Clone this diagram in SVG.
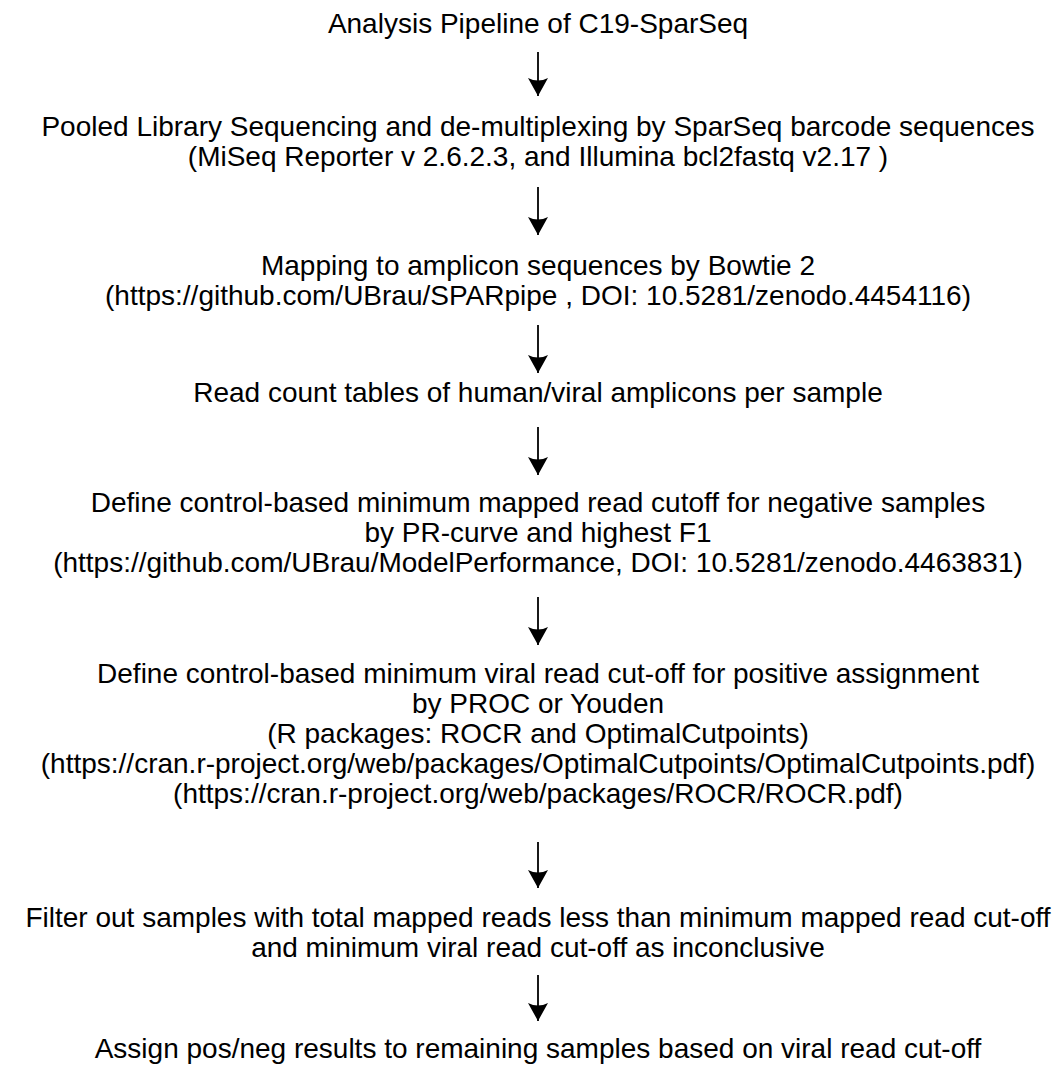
<svg xmlns="http://www.w3.org/2000/svg" width="1063" height="1066" viewBox="0 0 1063 1066">
<style>
text{font-family:"Liberation Sans",Arial,sans-serif;font-size:28px;fill:#000;text-anchor:middle}
.arr{stroke:#000;stroke-width:1.8;fill:none}
</style>
<defs>
<marker id="ah" markerUnits="userSpaceOnUse" markerWidth="24" markerHeight="24" viewBox="-20 -12 24 24" refX="0" refY="0" orient="auto">
<path d="M0,0 L-18,-10 Q-13,0 -18,10 Z" fill="#000"/>
</marker>
</defs>
<rect width="1063" height="1066" fill="#fff"/>
<g id="n0"><text x="538" y="33">Analysis Pipeline of C19-SparSeq</text></g>
<g id="n1"><text x="538" y="136">Pooled Library Sequencing and de-multiplexing by SparSeq barcode sequences</text><text x="538" y="166">(MiSeq Reporter v 2.6.2.3, and Illumina bcl2fastq v2.17 )</text></g>
<g id="n2"><text x="538" y="275">Mapping to amplicon sequences by Bowtie 2</text><text x="538" y="305">(https://github.com/UBrau/SPARpipe , DOI: 10.5281/zenodo.4454116)</text></g>
<g id="n3"><text x="538" y="402">Read count tables of human/viral amplicons per sample</text></g>
<g id="n4"><text x="538" y="512">Define control-based minimum mapped read cutoff for negative samples</text><text x="538" y="542">by PR-curve and highest F1</text><text x="538" y="572">(https://github.com/UBrau/ModelPerformance, DOI: 10.5281/zenodo.4463831)</text></g>
<g id="n5"><text x="538" y="683">Define control-based minimum viral read cut-off for positive assignment</text><text x="538" y="713">by PROC or Youden</text><text x="538" y="743">(R packages: ROCR and OptimalCutpoints)</text><text x="538" y="773">(https://cran.r-project.org/web/packages/OptimalCutpoints/OptimalCutpoints.pdf)</text><text x="538" y="803">(https://cran.r-project.org/web/packages/ROCR/ROCR.pdf)</text></g>
<g id="n6"><text x="538" y="927">Filter out samples with total mapped reads less than minimum mapped read cut-off</text><text x="538" y="957">and minimum viral read cut-off as inconclusive</text></g>
<g id="n7"><text x="538" y="1058">Assign pos/neg results to remaining samples based on viral read cut-off</text></g>
<g id="connectors">
<path class="arr" d="M538,52V96" marker-end="url(#ah)"/>
<path class="arr" d="M538,187V235" marker-end="url(#ah)"/>
<path class="arr" d="M538,325V373" marker-end="url(#ah)"/>
<path class="arr" d="M538,427V475" marker-end="url(#ah)"/>
<path class="arr" d="M538,597V645" marker-end="url(#ah)"/>
<path class="arr" d="M538,842V888" marker-end="url(#ah)"/>
<path class="arr" d="M538,975V1021" marker-end="url(#ah)"/>
</g>
</svg>
